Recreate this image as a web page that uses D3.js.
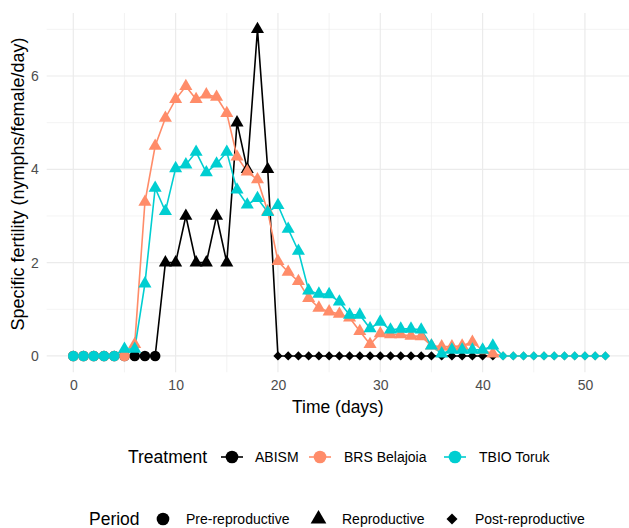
<!DOCTYPE html>
<html>
<head>
<meta charset="utf-8">
<script src="https://cdn.jsdelivr.net/npm/d3@7"></script>
<style>
  body { margin: 0; background: #fff; }
  text { font-family: "Liberation Sans", Arial, sans-serif; }
</style>
</head>
<body>
<svg id="chart" width="629" height="528"></svg>
<script>
// values per day, day = index
var treatments = ['ABISM', 'BRS Belajoia', 'TBIO Toruk'];
var colors = ['#000000', '#FF8C69', '#00CED1'];
var periods = ['Pre-reproductive', 'Reproductive', 'Post-reproductive'];

var abismValues = [0, 0, 0, 0, 0, 0, 0, 0, 0,
  2, 2, 3, 2, 2, 3, 2, 5, 4, 7, 4,
  0, 0, 0, 0, 0, 0, 0, 0, 0, 0, 0, 0, 0, 0, 0, 0, 0, 0, 0, 0, 0, 0];
var brsValues = [0, 0, 0, 0, 0, 0,
  0.25, 3.3, 4.5, 5.1, 5.5, 5.78, 5.5, 5.6, 5.55, 5.2, 4.27, 3.95, 3.78, 3.1,
  2.03, 1.8, 1.6, 1.24, 1.03, 0.95, 0.9, 0.82, 0.53, 0.25, 0.48, 0.46, 0.46, 0.43,
  0.42, 0.22, 0.2, 0.2, 0.22, 0.3, 0.12, 0.05,
  0, 0, 0, 0, 0, 0, 0, 0, 0, 0, 0];
var tbioValues = [0, 0, 0, 0, 0,
  0.15, 0.15, 1.55, 3.6, 3.1, 4.02, 4.1, 4.37, 3.93, 4.12, 4.37, 3.56, 3.24, 3.38, 3.08,
  3.23, 2.72, 2.25, 1.4, 1.33, 1.32, 1.16, 0.88, 0.88, 0.59, 0.73, 0.56, 0.58, 0.58,
  0.56, 0.22, 0.05, 0.13, 0.13, 0.13, 0.13, 0.22,
  0, 0, 0, 0, 0, 0, 0, 0, 0, 0, 0];
// first day of reproductive and post-reproductive period
var reproStart = [9, 6, 5];
var postStart = [20, 42, 42];

var xTicks = [0, 10, 20, 30, 40, 50];
var xMinor = [5, 15, 25, 35, 45];
var yTicks = [0, 2, 4, 6];
var yMinor = [1, 3, 5, 7];

var allValues = [abismValues, brsValues, tbioValues];
var series = treatments.map(function (t, k) {
  return allValues[k].map(function (v, i) {
    var p = i < reproStart[k] ? 0 : (i < postStart[k] ? 1 : 2);
    return { day: i, value: v, period: p, treatment: k };
  });
});

var svg = d3.select('#chart');
var pLeft = 46.7, pRight = 632, pTop = 13, pBottom = 372.3;
var x = d3.scaleLinear().domain([-2.6, 54.6]).range([pLeft, pRight]);
var y = d3.scaleLinear().domain([-0.35, 7.35]).range([pBottom, pTop]);

var grid = svg.append('g');
grid.selectAll('.xminor').data(xMinor).enter().append('line')
  .attr('x1', function (d) { return x(d); }).attr('x2', function (d) { return x(d); })
  .attr('y1', pTop).attr('y2', pBottom)
  .attr('stroke', '#EBEBEB').attr('stroke-width', 0.6);
grid.selectAll('.yminor').data(yMinor).enter().append('line')
  .attr('y1', function (d) { return y(d); }).attr('y2', function (d) { return y(d); })
  .attr('x1', pLeft).attr('x2', pRight)
  .attr('stroke', '#EBEBEB').attr('stroke-width', 0.6);
grid.selectAll('.xmajor').data(xTicks).enter().append('line')
  .attr('x1', function (d) { return x(d); }).attr('x2', function (d) { return x(d); })
  .attr('y1', pTop).attr('y2', pBottom)
  .attr('stroke', '#EBEBEB').attr('stroke-width', 1.2);
grid.selectAll('.ymajor').data(yTicks).enter().append('line')
  .attr('y1', function (d) { return y(d); }).attr('y2', function (d) { return y(d); })
  .attr('x1', pLeft).attr('x2', pRight)
  .attr('stroke', '#EBEBEB').attr('stroke-width', 1.2);

// axes without lines or ticks
var xAxis = svg.append('g')
  .attr('transform', 'translate(0,' + pBottom + ')')
  .call(d3.axisBottom(x).tickValues(xTicks).tickSize(0).tickPadding(8));
var yAxis = svg.append('g')
  .attr('transform', 'translate(' + pLeft + ',0)')
  .call(d3.axisLeft(y).tickValues(yTicks).tickSize(0).tickPadding(8));
[xAxis, yAxis].forEach(function (a) {
  a.select('.domain').remove();
  a.selectAll('text')
    .style('font-family', '"Liberation Sans", Arial, sans-serif')
    .style('font-size', '14px').attr('fill', '#4D4D4D');
});

svg.append('text')
  .attr('x', (pLeft + 629) / 2).attr('y', 413)
  .attr('text-anchor', 'middle').style('font-size', '17.5px')
  .text('Time (days)');
svg.append('text')
  .attr('transform', 'translate(24,' + 184 + ') rotate(-90)')
  .attr('text-anchor', 'middle').style('font-size', '18px')
  .text('Specific fertility (nymphs/female/day)');

// shapes
function shapePath(p, scale) {
  var s = scale || 1;
  if (p === 0) {
    return d3.symbol().type(d3.symbolCircle).size(88 * s * s)();
  } else if (p === 1) {
    return d3.symbol().type(d3.symbolTriangle).size(74 * s * s)();
  }
  var r = 4.6 * s;
  return 'M0,' + (-r) + 'L' + r + ',0L0,' + r + 'L' + (-r) + ',0Z';
}

var line = d3.line()
  .x(function (d) { return x(d.day); })
  .y(function (d) { return y(d.value); });

svg.append('g').selectAll('path').data(series).enter().append('path')
  .attr('d', line)
  .attr('fill', 'none')
  .attr('stroke', function (d, k) { return colors[k]; })
  .attr('stroke-width', 1.6);

series.forEach(function (s, k) {
  svg.append('g').selectAll('path').data(s).enter().append('path')
    .attr('transform', function (d) { return 'translate(' + x(d.day) + ',' + y(d.value) + ')'; })
    .attr('d', function (d) { return shapePath(d.period); })
    .attr('fill', colors[k]);
});

// Treatment legend
var leg1 = svg.append('g').attr('transform', 'translate(0,457)');
leg1.append('text').attr('x', 128).attr('y', 6).style('font-size', '17.5px').text('Treatment');
var keyX = [232, 320, 455];
var labX = [255, 344, 479];
treatments.forEach(function (t, k) {
  leg1.append('line').attr('x1', keyX[k] - 11).attr('x2', keyX[k] + 11)
    .attr('y1', 0).attr('y2', 0)
    .attr('stroke', colors[k]).attr('stroke-width', 1.6);
  leg1.append('path').attr('transform', 'translate(' + keyX[k] + ',0)')
    .attr('d', shapePath(0, 1.2)).attr('fill', colors[k]);
  leg1.append('text').attr('x', labX[k]).attr('y', 5).style('font-size', '14px').text(t);
});

// Period legend
var leg2 = svg.append('g').attr('transform', 'translate(0,519)');
leg2.append('text').attr('x', 89).attr('y', 6).style('font-size', '17.5px').text('Period');
var pKeyX = [163, 318.5, 452];
var pLabX = [186, 342, 475];
periods.forEach(function (p, k) {
  leg2.append('path').attr('transform', 'translate(' + pKeyX[k] + ',0)')
    .attr('d', shapePath(k, 1.2)).attr('fill', '#000');
  leg2.append('text').attr('x', pLabX[k]).attr('y', 5).style('font-size', '14px').text(p);
});
</script>
</body>
</html>
